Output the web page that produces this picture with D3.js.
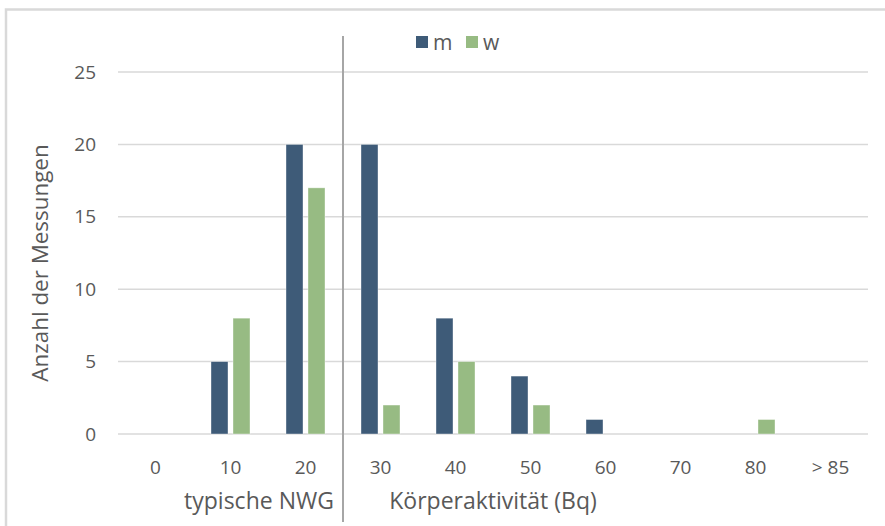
<!DOCTYPE html>
<html>
<head>
<meta charset="utf-8">
<script src="https://cdn.jsdelivr.net/npm/d3@7"></script>
<style>
  html, body { margin: 0; padding: 0; background: #fff; }
  svg { display: block; font-family: "Open Sans", Lato, sans-serif; }
</style>
</head>
<body>
<svg id="chart" width="885" height="526"></svg>
<script>
const categories = ["0", "10", "20", "30", "40", "50", "60", "70", "80", "> 85"];
const seriesNames = ["m", "w"];
const valuesM = [0, 5, 20, 20, 8, 4, 1, 0, 0, 0];
const valuesW = [0, 8, 17, 2, 5, 2, 0, 0, 1, 0];
const yTicks = [0, 5, 10, 15, 20, 25];
const yAxisTitle = "Anzahl der Messungen";
const groupLabels = ["typische NWG", "Körperaktivität (Bq)"];
const colors = ["#3e5b78", "#97bb83"];

(function () {
const svg = d3.select("#chart");
const textColor = "#595959";

// outer frame
svg.append("path")
  .attr("d", "M6,526 V9.5 H885")
  .attr("fill", "none").attr("stroke", "#d9d9d9").attr("stroke-width", 2.5);

const plotLeft = 118, plotRight = 868, plotTop = 72, plotBottom = 434;
const x = d3.scaleBand().domain(categories).range([plotLeft, plotRight]).padding(0);
const y = d3.scaleLinear().domain([0, 25]).range([plotBottom, plotTop]);

// gridlines
svg.append("g").selectAll("line").data(yTicks).join("line")
  .attr("x1", plotLeft).attr("x2", plotRight)
  .attr("y1", d => y(d)).attr("y2", d => y(d))
  .attr("stroke", "#d9d9d9").attr("stroke-width", 1.5);

// y tick labels
svg.append("g").selectAll("text").data(yTicks).join("text")
  .attr("x", 96).attr("y", d => y(d))
  .attr("dy", "0.35em").attr("text-anchor", "end")
  .attr("fill", textColor).attr("font-size", 19)
  .text(d => d);

// y axis title
svg.append("text")
  .attr("transform", "translate(40,263) rotate(-90)")
  .attr("dy", "0.35em")
  .attr("text-anchor", "middle").attr("fill", textColor).attr("font-size", 22.4)
  .text(yAxisTitle);

// bars
const bw = 17, gap = 5;
const series = [valuesM, valuesW];
series.forEach((vals, si) => {
  const data = vals.map((v, i) => ({v, c: categories[i]})).filter(d => d.v > 0);
  svg.append("g").selectAll("rect").data(data).join("rect")
    .attr("x", d => x(d.c) + x.bandwidth() / 2 + (si === 0 ? -gap / 2 - bw : gap / 2))
    .attr("y", d => y(d.v))
    .attr("width", bw)
    .attr("height", d => y(0) - y(d.v))
    .attr("fill", colors[si])
    .attr("stroke", "#ffffff").attr("stroke-opacity", 0.5).attr("stroke-width", 0.75);
});

// x tick labels
svg.append("g").selectAll("text").data(categories).join("text")
  .attr("x", d => x(d) + x.bandwidth() / 2).attr("y", 467)
  .attr("dy", "0.35em").attr("text-anchor", "middle")
  .attr("fill", textColor).attr("font-size", 19)
  .text(d => d);

// divider between groups
const divX = x(categories[3]);
svg.append("line")
  .attr("x1", divX).attr("x2", divX).attr("y1", 36).attr("y2", 522)
  .attr("stroke", "#a6a6a6").attr("stroke-width", 2);

// group labels
svg.append("text").attr("x", 259).attr("y", 501).attr("dy", "0.35em")
  .attr("text-anchor", "middle").attr("fill", textColor).attr("font-size", 23)
  .text(groupLabels[0]);
svg.append("text").attr("x", 493).attr("y", 501).attr("dy", "0.35em")
  .attr("text-anchor", "middle").attr("fill", textColor).attr("font-size", 23)
  .text(groupLabels[1]);

// legend
const legendX = [416, 466];
seriesNames.forEach((name, i) => {
  svg.append("rect").attr("x", legendX[i]).attr("y", 36).attr("width", 12).attr("height", 12)
    .attr("fill", colors[i]);
  svg.append("text").attr("x", legendX[i] + 17).attr("y", 50)
    .attr("fill", textColor).attr("font-size", 21).text(name);
});
})();
</script>
</body>
</html>
